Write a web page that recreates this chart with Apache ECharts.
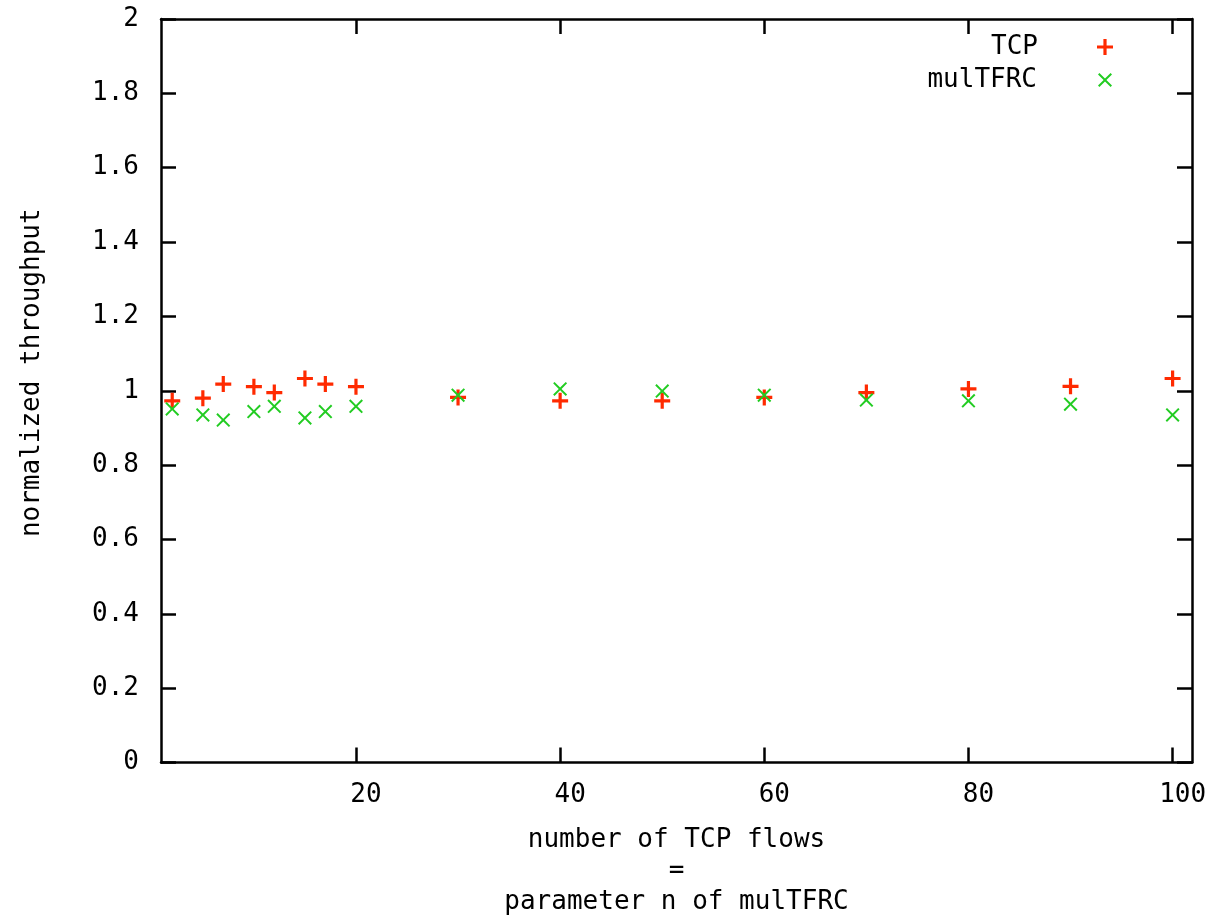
<!DOCTYPE html>
<html>
<head>
<meta charset="utf-8">
<script src="https://cdn.jsdelivr.net/npm/echarts@6/dist/echarts.min.js"></script>
<style>html,body{margin:0;padding:0;background:#fff}#c{width:1214px;height:917px}</style>
</head>
<body>
<div id="c"></div>
<script>
const flows = [2, 5, 7, 10, 12, 15, 17, 20, 30, 40, 50, 60, 70, 80, 90, 100];
const tcpValues = [0.973, 0.980, 1.018, 1.011, 0.995, 1.033, 1.018, 1.011, 0.982, 0.973, 0.973, 0.982, 0.995, 1.005, 1.012, 1.033];
const mulValues = [0.951, 0.935, 0.921, 0.944, 0.958, 0.927, 0.944, 0.958, 0.988, 1.005, 0.999, 0.988, 0.975, 0.973, 0.964, 0.935];
const xTicks = [20, 40, 60, 80, 100];
const seriesNames = ['TCP', 'mulTFRC'];
const xTitle = 'number of TCP flows\n=\nparameter n of mulTFRC';
const yTitle = 'normalized throughput';

const FONT = 'DejaVu Sans Mono';
const FS = 26;
const PLUS = 'path://M4,0H6V4H10V6H6V10H4V6H0V4H4Z';
const CROSS = 'path://M0,1L1,0L5,4L9,0L10,1L6,5L10,9L9,10L5,6L1,10L0,9L4,5Z';

const chart = echarts.init(document.getElementById('c'), null, {renderer: 'canvas'});
const lineStyle = {color: '#000', width: 2.5};
const xBase = {
  type: 'value', min: 0.9, max: 101.9,
  axisLine: {show: true, onZero: false, lineStyle},
  axisTick: {show: true, inside: true, length: 15, lineStyle, customValues: xTicks},
  splitLine: {show: false}
};
const yBase = {
  type: 'value', min: 0, max: 2, interval: 0.2,
  axisLine: {show: true, onZero: false, lineStyle},
  axisTick: {show: true, inside: true, length: 15, lineStyle},
  splitLine: {show: false}
};
chart.setOption({
  animation: false,
  backgroundColor: '#fff',
  textStyle: {fontFamily: FONT},
  grid: {left: 161, right: 22, top: 19, bottom: 154.5, containLabel: false, outerBoundsMode: 'none'},
  legend: [
    {data: [{name: seriesNames[0], icon: PLUS}], right: 96, top: 29, orient: 'vertical', align: 'right',
     itemWidth: 16, itemHeight: 16, itemGap: 10,
     textStyle: {fontFamily: FONT, fontSize: FS, color: '#000', padding: [0, 54, 0, 0]}},
    {data: [{name: seriesNames[1], icon: CROSS}], right: 97, top: 62, orient: 'vertical', align: 'right',
     itemWidth: 14, itemHeight: 14, itemGap: 10,
     textStyle: {fontFamily: FONT, fontSize: FS, color: '#000', padding: [0, 56, 0, 0]}}
  ],
  xAxis: [
    Object.assign({}, xBase, {
      position: 'bottom',
      axisLabel: {show: true, customValues: xTicks, margin: 20, fontFamily: FONT, fontSize: FS, color: '#000', padding: [0, 0, 0, 20]},
      name: xTitle, nameLocation: 'middle', nameGap: 62,
      nameTextStyle: {fontFamily: FONT, fontSize: FS, color: '#000', lineHeight: 31, verticalAlign: 'top'}
    }),
    Object.assign({}, xBase, {position: 'top', axisLabel: {show: false}})
  ],
  yAxis: [
    Object.assign({}, yBase, {
      position: 'left',
      axisLabel: {show: true, margin: 22, fontFamily: FONT, fontSize: FS, color: '#000'},
      name: yTitle, nameLocation: 'middle', nameGap: 116, nameRotate: 90,
      nameTextStyle: {fontFamily: FONT, fontSize: FS, color: '#000', padding: [0, 0, 0, 36]}
    }),
    Object.assign({}, yBase, {position: 'right', axisLabel: {show: false}})
  ],
  series: [
    {name: seriesNames[0], type: 'scatter', symbol: PLUS, symbolSize: 16,
     itemStyle: {color: '#ff2a00', opacity: 1},
     data: flows.map((f, i) => [f, tcpValues[i]])},
    {name: seriesNames[1], type: 'scatter', symbol: CROSS, symbolSize: 14,
     itemStyle: {color: '#22cc22', opacity: 1},
     data: flows.map((f, i) => [f, mulValues[i]])}
  ]
});
</script>
</body>
</html>
